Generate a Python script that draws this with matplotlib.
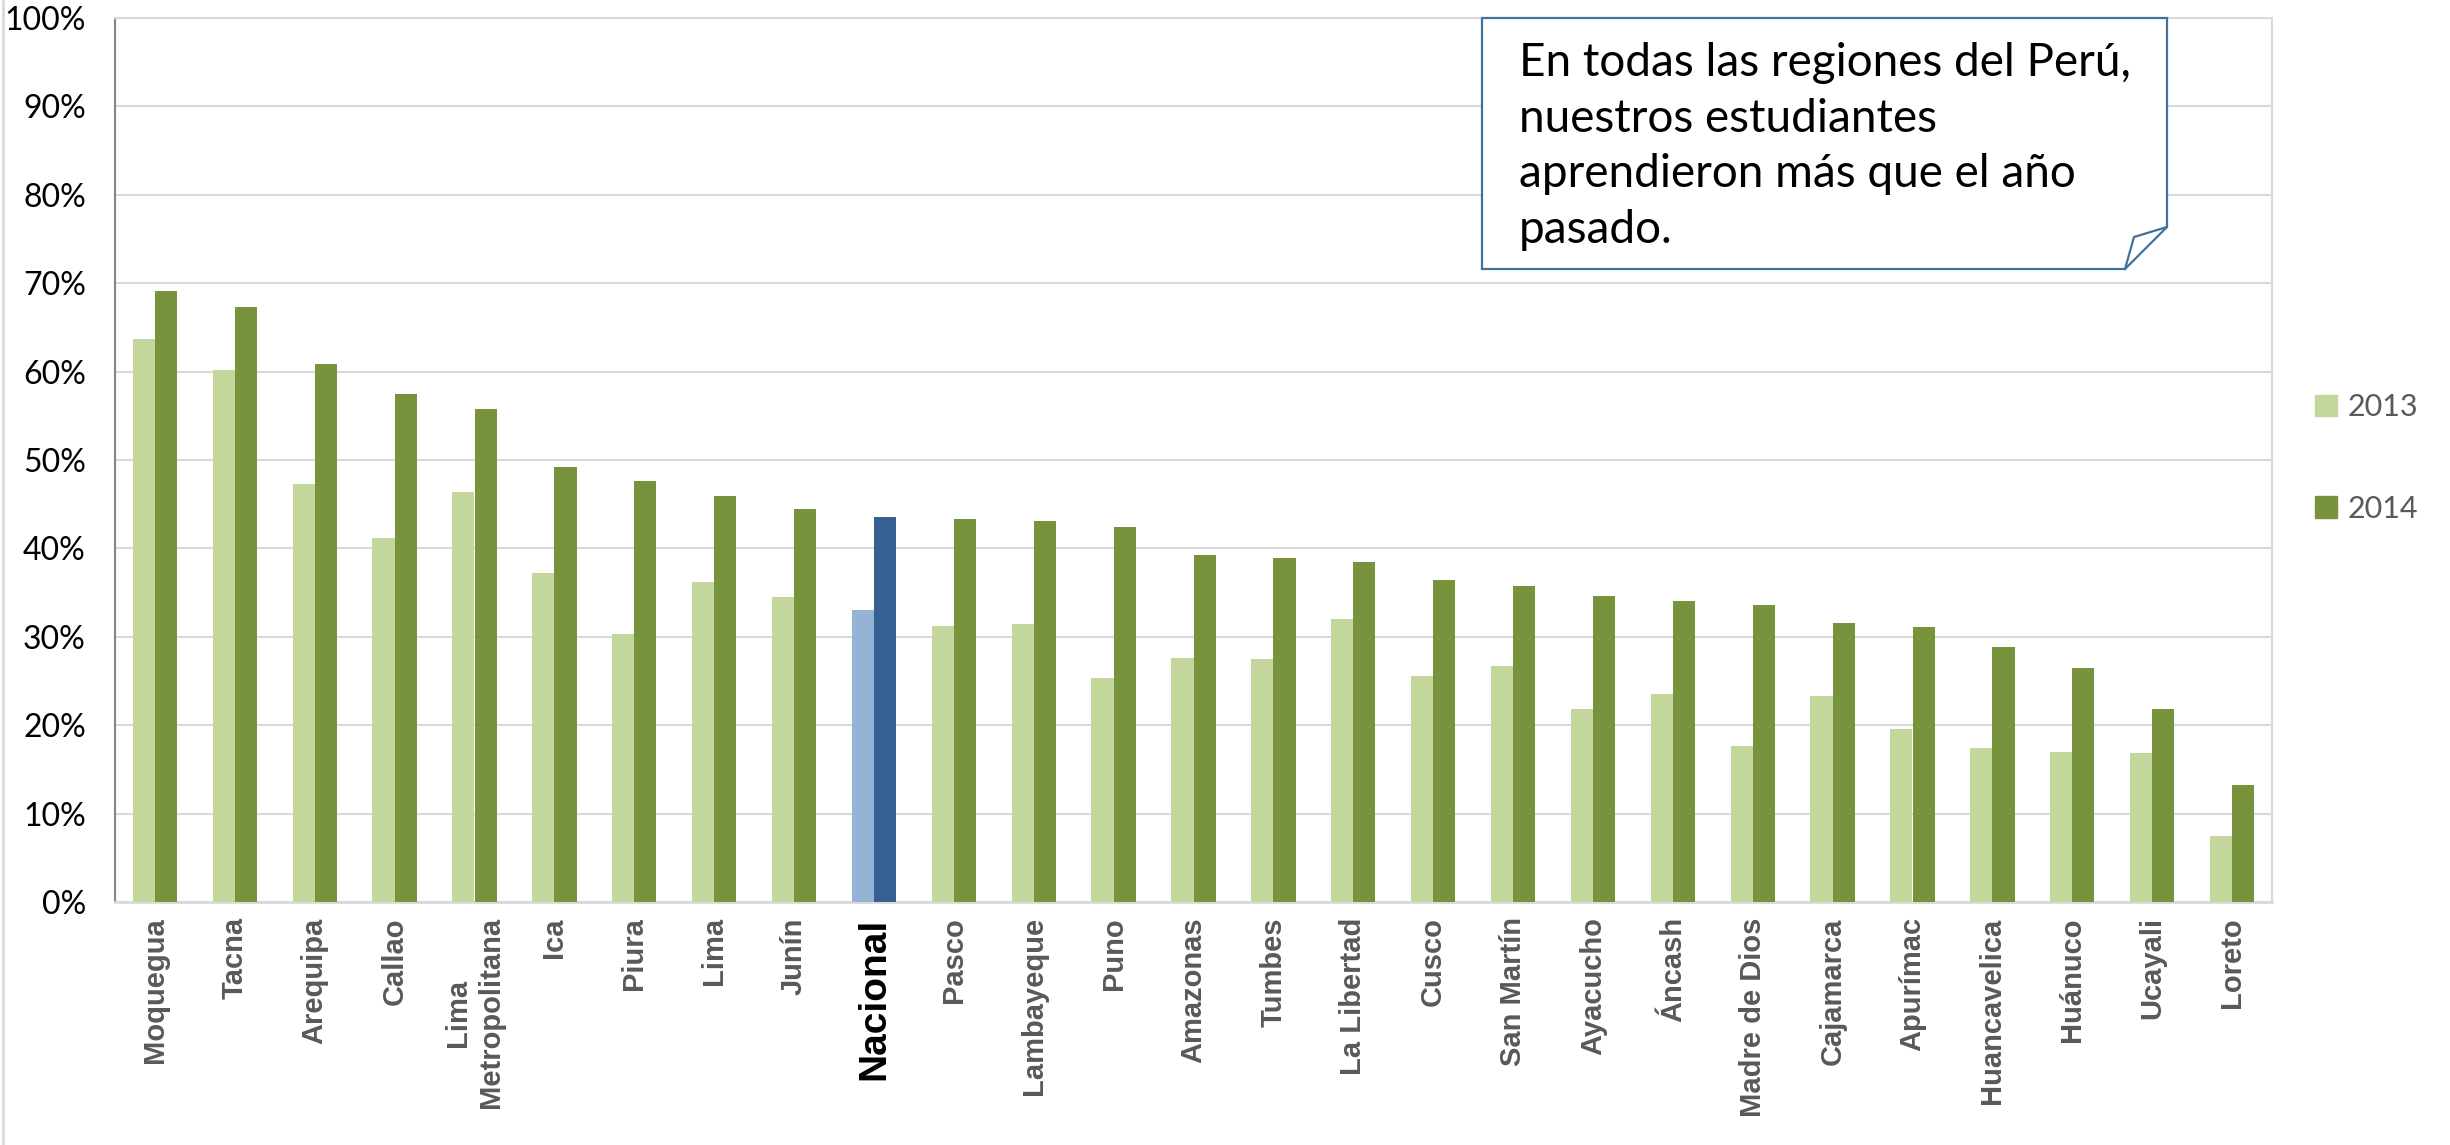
import numpy as np
import matplotlib
matplotlib.use("Agg")
import matplotlib.pyplot as plt
from matplotlib.patches import Patch, Polygon
from matplotlib.lines import Line2D
from matplotlib.ticker import PercentFormatter, MultipleLocator

# --- data ---
regions = [
    "Moquegua", "Tacna", "Arequipa", "Callao", "Lima\nMetropolitana", "Ica",
    "Piura", "Lima", "Junín", "Nacional", "Pasco", "Lambayeque", "Puno",
    "Amazonas", "Tumbes", "La Libertad", "Cusco", "San Martín", "Ayacucho",
    "Áncash", "Madre de Dios", "Cajamarca", "Apurímac", "Huancavelica",
    "Huánuco", "Ucayali", "Loreto",
]
vals_2013 = [63.7, 60.2, 47.3, 41.2, 46.4, 37.2, 30.3, 36.2, 34.5, 33.0, 31.2,
             31.4, 25.3, 27.6, 27.5, 32.0, 25.6, 26.7, 21.8, 23.5, 17.7, 23.3,
             19.6, 17.4, 17.0, 16.8, 7.5]
vals_2014 = [69.1, 67.3, 60.9, 57.5, 55.8, 49.2, 47.6, 45.9, 44.5, 43.5, 43.3,
             43.1, 42.4, 39.3, 38.9, 38.5, 36.4, 35.7, 34.6, 34.0, 33.6, 31.6,
             31.1, 28.8, 26.5, 21.8, 13.2]
series_labels = ["2013", "2014"]
highlight = "Nacional"
note = "En todas las regiones del Perú,\nnuestros estudiantes\naprendieron más que el año\npasado."

# --- style ---
C13, C14 = "#C3D69B", "#77933C"
N13, N14 = "#95B3D7", "#376092"
GRID = "#D9D9D9"
W, H = 2450, 1145

plt.rcParams["font.family"] = ["Lato", "DejaVu Sans"]

fig = plt.figure(figsize=(W / 100, H / 100), dpi=100)
ax = fig.add_axes([115 / W, 1 - 902 / H, (2272 - 115) / W, (902 - 18) / H])

x = np.arange(len(regions))
bw = 0.278
c13 = [N13 if r == highlight else C13 for r in regions]
c14 = [N14 if r == highlight else C14 for r in regions]
ax.bar(x - bw / 2, vals_2013, bw, color=c13, zorder=3)
ax.bar(x + bw / 2, vals_2014, bw, color=c14, zorder=3)

ax.set_xlim(-0.5, len(regions) - 0.5)
ax.set_ylim(0, 100)
ax.yaxis.set_major_locator(MultipleLocator(10))
ax.yaxis.set_major_formatter(PercentFormatter(decimals=0))
ax.grid(axis="y", color=GRID, lw=1.5, zorder=0)
ax.tick_params(axis="y", length=0, pad=21, labelsize=23, labelcolor="black")

ax.set_xticks(x)
ax.set_xticklabels(regions, rotation=90, ha="center", va="top",
                   multialignment="center", family="Liberation Sans",
                   fontweight="bold", fontsize=21, color="#595959")
ax.tick_params(axis="x", length=0, pad=11)
for lbl in ax.get_xticklabels():
    if lbl.get_text() == highlight:
        lbl.set_fontsize(28)
        lbl.set_color("black")

for side in ("top", "right", "bottom"):
    ax.spines[side].set_color(GRID)
    ax.spines[side].set_linewidth(1.5)
ax.spines["bottom"].set_linewidth(2)
ax.spines["left"].set_color("#868686")
ax.spines["left"].set_linewidth(1.5)

# legend
handles = [Patch(color=C13), Patch(color=C14)]
leg = fig.legend(handles, series_labels, loc="center left",
                 bbox_to_anchor=(2300 / W, 1 - 458 / H), frameon=False,
                 fontsize=22, labelcolor="#595959", handlelength=0.7,
                 handleheight=0.7, handletextpad=0.35, labelspacing=2.4,
                 borderpad=0)

# callout box with folded corner (figure pixel coords)
def px(xp, yp):
    return (xp / W, 1 - yp / H)

L, R, T, B = 1482, 2167, 18, 269
fx, fy = 2125, 227
box = Polygon([px(L, T), px(R, T), px(R, fy), px(fx, B), px(L, B)],
              closed=True, transform=fig.transFigure, facecolor="white",
              edgecolor="#41719C", lw=1.6, zorder=5)
fig.patches.append(box)
fold = Line2D([fx / W, 2134 / W, R / W], [1 - B / H, 1 - 237 / H, 1 - fy / H],
              transform=fig.transFigure, color="#41719C", lw=1.6, zorder=6)
fig.lines.append(fold)
fig.text(1519 / W, 1 - 42 / H, note, ha="left", va="top", fontsize=33,
         linespacing=1.4, color="black", zorder=7)

# left edge of chart area
fig.lines.append(Line2D([3 / W, 3 / W], [0, 1], transform=fig.transFigure,
                        color=GRID, lw=2))

fig.savefig("out.png", dpi=100, facecolor="white")
